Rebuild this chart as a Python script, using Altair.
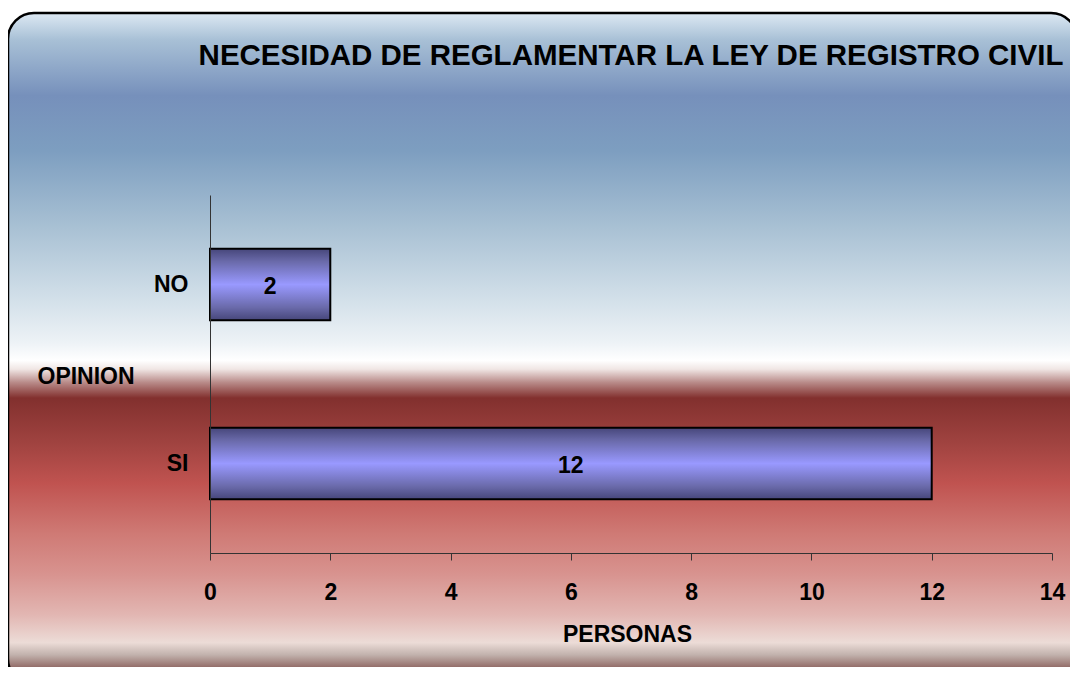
import altair as alt
import pandas as pd

categories = ["NO", "SI"]
values = [2, 12]
x_ticks = [0, 2, 4, 6, 8, 10, 12, 14]
chart_title = "NECESIDAD DE REGLAMENTAR LA LEY DE REGISTRO CIVIL"

df = pd.DataFrame({"opinion": categories, "personas": values})
bg_df = pd.DataFrame({"t": [chart_title]})

FONT = "Liberation Sans"
FS = 23

bg_grad = alt.LinearGradient(
    gradient="linear", x1=0, x2=0, y1=0, y2=1,
    stops=[
        alt.GradientStop(offset=0.0, color="#dde9f3"),
        alt.GradientStop(offset=0.04, color="#a8c0d6"),
        alt.GradientStop(offset=0.123, color="#7690bb"),
        alt.GradientStop(offset=0.205, color="#7d9ec0"),
        alt.GradientStop(offset=0.31, color="#a5bed2"),
        alt.GradientStop(offset=0.43, color="#d4e1ea"),
        alt.GradientStop(offset=0.49, color="#edf2f6"),
        alt.GradientStop(offset=0.517, color="#ffffff"),
        alt.GradientStop(offset=0.53, color="#f0e6e4"),
        alt.GradientStop(offset=0.55, color="#b88a88"),
        alt.GradientStop(offset=0.573, color="#82302e"),
        alt.GradientStop(offset=0.64, color="#a04340"),
        alt.GradientStop(offset=0.70, color="#c05350"),
        alt.GradientStop(offset=0.775, color="#cf7a75"),
        alt.GradientStop(offset=0.835, color="#d8938f"),
        alt.GradientStop(offset=0.895, color="#e2b6b2"),
        alt.GradientStop(offset=0.937, color="#ecdcd7"),
        alt.GradientStop(offset=0.955, color="#c2b2ad"),
        alt.GradientStop(offset=0.977, color="#8a605c"),
        alt.GradientStop(offset=1.0, color="#5e3230"),
    ],
)

bar_grad = alt.LinearGradient(
    gradient="linear", x1=0, x2=0, y1=0, y2=1,
    stops=[
        alt.GradientStop(offset=0.0, color="#46467a"),
        alt.GradientStop(offset=0.18, color="#6a6aaa"),
        alt.GradientStop(offset=0.5, color="#9999ff"),
        alt.GradientStop(offset=0.82, color="#6a6aaa"),
        alt.GradientStop(offset=1.0, color="#46467a"),
    ],
)

background = alt.Chart(bg_df).mark_rect(
    color=bg_grad, cornerRadius=26, stroke="#000000", strokeWidth=2.5
).encode(
    x=alt.value(-202), x2=alt.value(867), y=alt.value(-182), y2=alt.value(490)
)

title_text = alt.Chart(bg_df).mark_text(
    font=FONT, fontSize=29.5, fontWeight="bold", color="#000000",
    align="center", baseline="alphabetic",
).encode(x=alt.value(421), y=alt.value(-130), text="t:N")

y_enc = alt.Y(
    "opinion:N",
    sort=categories,
    scale=alt.Scale(paddingInner=0.6, paddingOuter=0.3),
    axis=alt.Axis(
        title="OPINION", titleAngle=0, titleAlign="left", titleBaseline="middle",
        titleX=-173, titleY=181, titleFont=FONT, titleFontSize=FS, titleFontWeight="bold",
        titleColor="#000000",
        labelFont=FONT, labelFontSize=FS, labelFontWeight="bold", labelColor="#000000",
        labelPadding=22, ticks=False, domainColor="#333333", domainWidth=1, grid=False,
        zindex=1,
    ),
)

x_enc = alt.X(
    "personas:Q",
    scale=alt.Scale(domain=[0, 14], nice=False),
    axis=alt.Axis(
        title="PERSONAS", values=x_ticks, format="d", labelFlush=False,
        titleFont=FONT, titleFontSize=FS,
        titleFontWeight="bold", titleColor="#000000", titleBaseline="top",
        titleY=70, titleX=417,
        labelFont=FONT, labelFontSize=FS, labelFontWeight="bold", labelColor="#000000",
        labelPadding=21, tickSize=7, tickColor="#333333", domainColor="#333333",
        domainWidth=1, grid=False, zindex=1,
    ),
)

bars = alt.Chart(df).mark_bar(
    color=bar_grad, stroke="#000000", strokeWidth=2
).encode(x=x_enc, y=y_enc)

labels = alt.Chart(df).mark_text(
    font=FONT, fontSize=FS, fontWeight="bold", color="#000000", baseline="middle", dy=2
).encode(
    x=alt.X("mid:Q"),
    y=alt.Y("opinion:N", sort=categories),
    text=alt.Text("personas:Q"),
).transform_calculate(mid="datum.personas / 2")

chart = alt.layer(background, title_text, bars, labels).properties(
    width=842,
    height=358,
    padding={"left": 202, "top": 187, "right": 18, "bottom": 114},
    autosize=alt.AutoSizeParams(type="none"),
    background="#ffffff",
).configure_view(stroke=None)

chart.save("out.html", embed_options={"renderer": "svg", "actions": False})
